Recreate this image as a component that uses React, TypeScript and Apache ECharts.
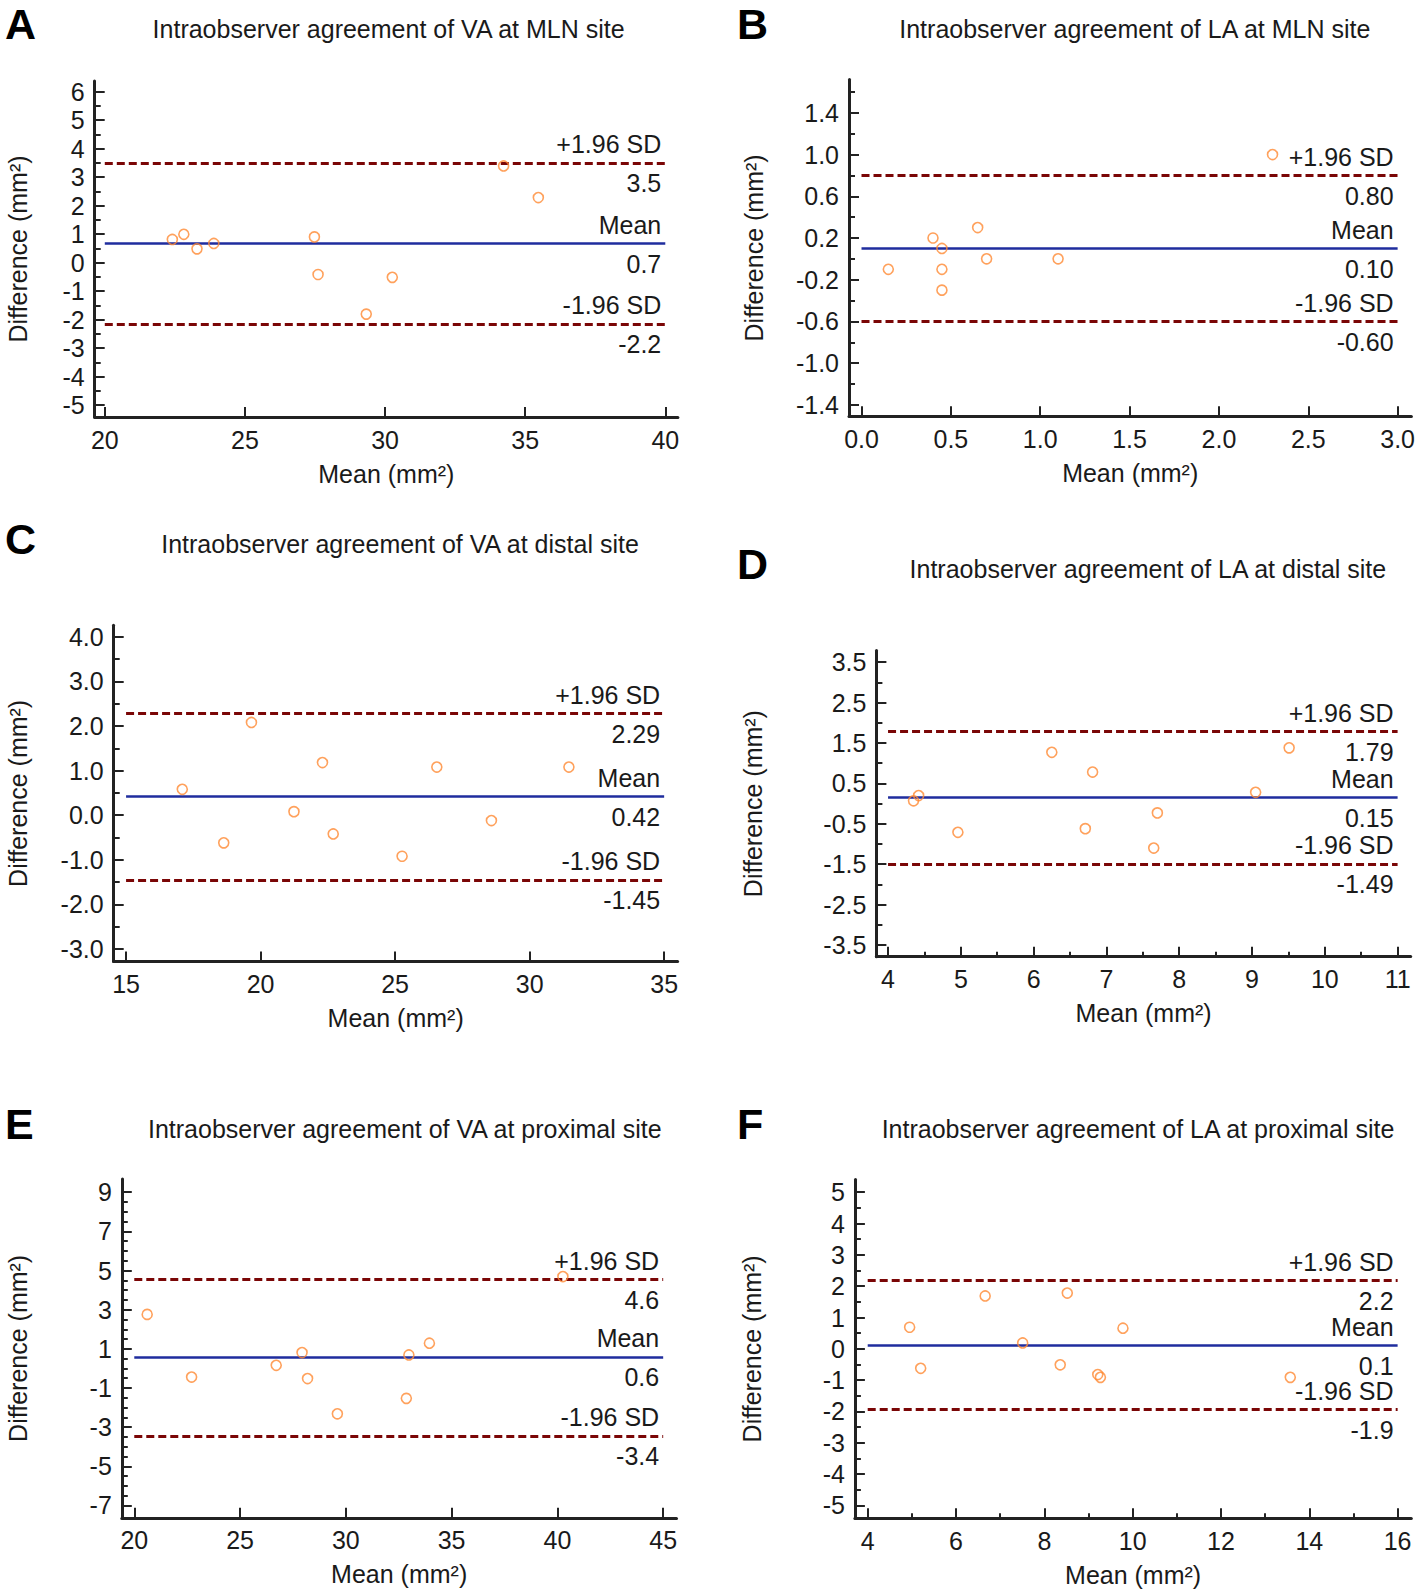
import React, { useEffect, useRef } from "react";
import * as echarts from "echarts";

// ---------------- DATA ----------------
// Panel A: VA at MLN site
const aMeanVals = [22.41, 22.82, 23.29, 23.89, 27.48, 27.61, 30.26, 29.33, 34.23, 35.47];
const aDiffVals = [0.81, 0.99, 0.48, 0.67, 0.9, -0.42, -0.52, -1.81, 3.39, 2.28];
const aLimits = [3.5, 0.68, -2.15];
const aLimitTexts = ["3.5", "0.7", "-2.2"];
const aXTicks = [20, 25, 30, 35, 40];
const aXMinor: number[] = [];
const aYTicks = [-5, -4, -3, -2, -1, 0, 1, 2, 3, 4, 5, 6];
const aYMinor = [-4.5, -3.5, -2.5, -1.5, -0.5, 0.5, 1.5, 2.5, 3.5, 4.5, 5.5];

// Panel B: LA at MLN site
const bMeanVals = [0.15, 0.4, 0.45, 0.45, 0.45, 0.65, 0.7, 1.1, 2.3];
const bDiffVals = [-0.1, 0.2, 0.1, -0.1, -0.3, 0.3, 0.0, 0.0, 1.0];
const bLimits = [0.8, 0.1, -0.6];
const bLimitTexts = ["0.80", "0.10", "-0.60"];
const bXTicks = [0, 0.5, 1.0, 1.5, 2.0, 2.5, 3.0];
const bXMinor: number[] = [];
const bYTicks = [-1.4, -1.0, -0.6, -0.2, 0.2, 0.6, 1.0, 1.4];
const bYMinor = [-1.2, -0.8, -0.4, 0, 0.4, 0.8, 1.2, 1.6];

// Panel C: VA at distal site
const cMeanVals = [17.09, 18.63, 19.66, 21.24, 22.3, 22.7, 25.26, 26.55, 28.58, 31.46];
const cDiffVals = [0.58, -0.62, 2.08, 0.08, 1.18, -0.42, -0.92, 1.08, -0.12, 1.08];
const cLimits = [2.29, 0.42, -1.45];
const cLimitTexts = ["2.29", "0.42", "-1.45"];
const cXTicks = [15, 20, 25, 30, 35];
const cXMinor: number[] = [];
const cYTicks = [-3, -2, -1, 0, 1, 2, 3, 4];
const cYMinor = [-2.5, -1.5, -0.5, 0.5, 1.5, 2.5, 3.5];

// Panel D: LA at distal site
const dMeanVals = [4.35, 4.42, 4.96, 6.25, 6.81, 6.71, 7.7, 7.65, 9.05, 9.51];
const dDiffVals = [0.07, 0.2, -0.71, 1.27, 0.78, -0.62, -0.23, -1.1, 0.28, 1.38];
const dLimits = [1.79, 0.15, -1.49];
const dLimitTexts = ["1.79", "0.15", "-1.49"];
const dXTicks = [4, 5, 6, 7, 8, 9, 10, 11];
const dXMinor = [4.5, 5.5, 6.5, 7.5, 8.5, 9.5, 10.5];
const dYTicks = [-3.5, -2.5, -1.5, -0.5, 0.5, 1.5, 2.5, 3.5];
const dYMinor = [-3, -2, -1, 0, 1, 2, 3];

// Panel E: VA at proximal site
const eMeanVals = [20.61, 22.71, 26.71, 27.93, 28.19, 29.6, 32.86, 32.98, 33.95, 40.26];
const eDiffVals = [2.76, -0.44, 0.16, 0.81, -0.52, -2.32, -1.53, 0.69, 1.29, 4.69];
const eLimits = [4.56, 0.59, -3.44];
const eLimitTexts = ["4.6", "0.6", "-3.4"];
const eXTicks = [20, 25, 30, 35, 40, 45];
const eXMinor: number[] = [];
const eYTicks = [-7, -5, -3, -1, 1, 3, 5, 7, 9];
const eYMinor = [-6.5, -6, -5.5, -4.5, -4, -3.5, -2.5, -2, -1.5, -0.5, 0, 0.5, 1.5, 2, 2.5, 3.5, 4, 4.5, 5.5, 6, 6.5, 7.5, 8, 8.5];

// Panel F: LA at proximal site
const fMeanVals = [4.95, 5.2, 6.66, 7.51, 8.36, 8.52, 9.21, 9.27, 9.78, 13.57];
const fDiffVals = [0.69, -0.62, 1.69, 0.19, -0.51, 1.78, -0.82, -0.91, 0.66, -0.91];
const fLimits = [2.18, 0.11, -1.94];
const fLimitTexts = ["2.2", "0.1", "-1.9"];
const fXTicks = [4, 6, 8, 10, 12, 14, 16];
const fXMinor = [5, 7, 9, 11, 13, 15];
const fYTicks = [-5, -4, -3, -2, -1, 0, 1, 2, 3, 4, 5];
const fYMinor = [-4.5, -3.5, -2.5, -1.5, -0.5, 0.5, 1.5, 2.5, 3.5, 4.5];

const limitNames = ["+1.96 SD", "Mean", "-1.96 SD"];
const letters = ["A", "B", "C", "D", "E", "F"];
const titles = [
  "Intraobserver agreement of VA at MLN site",
  "Intraobserver agreement of LA at MLN site",
  "Intraobserver agreement of VA at distal site",
  "Intraobserver agreement of LA at distal site",
  "Intraobserver agreement of VA at proximal site",
  "Intraobserver agreement of LA at proximal site",
];

// ---------------- STYLE / LAYOUT ----------------
const FONT = "'Liberation Sans', Arial, Helvetica, sans-serif";
const TEXT = "#1a1a1a";
const ORANGE = "#ff8a33";
const RED = "#7a0606";
const BLUE = "#1f2d9e";
const AXIS = "#222222";

type Panel = {
  mx: number[]; dy: number[]; limits: number[]; limitTexts: string[];
  xTicks: number[]; xMinor: number[]; yTicks: number[]; yMinor: number[];
  xDec: number; yDec: number;
};

const panels: Panel[] = [
  { mx: aMeanVals, dy: aDiffVals, limits: aLimits, limitTexts: aLimitTexts, xTicks: aXTicks, xMinor: aXMinor, yTicks: aYTicks, yMinor: aYMinor, xDec: 0, yDec: 0 },
  { mx: bMeanVals, dy: bDiffVals, limits: bLimits, limitTexts: bLimitTexts, xTicks: bXTicks, xMinor: bXMinor, yTicks: bYTicks, yMinor: bYMinor, xDec: 1, yDec: 1 },
  { mx: cMeanVals, dy: cDiffVals, limits: cLimits, limitTexts: cLimitTexts, xTicks: cXTicks, xMinor: cXMinor, yTicks: cYTicks, yMinor: cYMinor, xDec: 0, yDec: 1 },
  { mx: dMeanVals, dy: dDiffVals, limits: dLimits, limitTexts: dLimitTexts, xTicks: dXTicks, xMinor: dXMinor, yTicks: dYTicks, yMinor: dYMinor, xDec: 0, yDec: 1 },
  { mx: eMeanVals, dy: eDiffVals, limits: eLimits, limitTexts: eLimitTexts, xTicks: eXTicks, xMinor: eXMinor, yTicks: eYTicks, yMinor: eYMinor, xDec: 0, yDec: 0 },
  { mx: fMeanVals, dy: fDiffVals, limits: fLimits, limitTexts: fLimitTexts, xTicks: fXTicks, xMinor: fXMinor, yTicks: fYTicks, yMinor: fYMinor, xDec: 0, yDec: 0 },
];

// layout: grid box, axis extents, text positions (letter = left, top of text box)
const layouts = [
  { left: 94.7, top: 81, width: 583.2, height: 336, xr: [19.64, 40.45], yr: [-5.42, 6.37], yGap: 64, letter: [5, 2], title: [388.6, 28.5] },
  { left: 849, top: 79.5, width: 563.5, height: 336.8, xr: [-0.07, 3.077], yr: [-1.51, 1.72], yGap: 83, letter: [737, 2], title: [1134.8, 28.5] },
  { left: 113.7, top: 625.2, width: 563.9, height: 336.3, xr: [14.54, 35.5], yr: [-3.28, 4.26], yGap: 83, letter: [5, 517], title: [400, 544] },
  { left: 876.4, top: 650.5, width: 534.3, height: 306.2, xr: [3.84, 11.18], yr: [-3.79, 3.79], yGap: 111, letter: [737, 542.6], title: [1147.9, 568.6] },
  { left: 121.8, top: 1178.9, width: 554.7, height: 338.9, xr: [19.41, 45.63], yr: [-7.63, 9.68], yGap: 91, letter: [5, 1102], title: [404.8, 1129] },
  { left: 854.9, top: 1179.4, width: 556.4, height: 338.9, xr: [3.71, 16.31], yr: [-5.41, 5.41], yGap: 90, letter: [737, 1102], title: [1138, 1129] },
];

const FS = 25;

function buildOption() {
  const grid: any[] = [];
  const xAxis: any[] = [];
  const yAxis: any[] = [];
  const series: any[] = [];
  const graphic: any[] = [];

  panels.forEach((p, i) => {
    const L = layouts[i];
    grid.push({ left: L.left, top: L.top, width: L.width, height: L.height, containLabel: false });
    const tickStyle = { color: AXIS, width: 2 };
    xAxis.push({
      type: "value", gridIndex: i, position: "bottom", min: L.xr[0], max: L.xr[1],
      name: "Mean (mm²)", nameLocation: "middle", nameGap: 44,
      nameTextStyle: { fontFamily: FONT, fontSize: FS, color: TEXT },
      axisLine: { show: true, onZero: false, lineStyle: { color: AXIS, width: 3 } },
      axisTick: { show: true, inside: true, length: 10, lineStyle: tickStyle, customValues: p.xTicks },
      axisLabel: {
        show: true, customValues: p.xTicks, margin: 10, fontFamily: FONT, fontSize: FS, color: TEXT,
        formatter: (v: number) => v.toFixed(p.xDec),
      },
      splitLine: { show: false },
    });
    xAxis.push({
      type: "value", gridIndex: i, position: "bottom", offset: 0, min: L.xr[0], max: L.xr[1],
      axisLine: { show: false, onZero: false },
      axisLabel: { show: false },
      splitLine: { show: false },
      axisTick: p.xMinor.length
        ? { show: true, inside: true, length: 5, lineStyle: tickStyle, customValues: p.xMinor }
        : { show: false },
    });
    yAxis.push({
      type: "value", gridIndex: i, position: "left", min: L.yr[0], max: L.yr[1],
      name: "Difference (mm²)", nameLocation: "middle", nameGap: L.yGap, nameRotate: 90,
      nameTextStyle: { fontFamily: FONT, fontSize: FS, color: TEXT },
      axisLine: { show: true, onZero: false, lineStyle: { color: AXIS, width: 3 } },
      axisTick: { show: true, inside: true, length: 10, lineStyle: tickStyle, customValues: p.yTicks },
      axisLabel: {
        show: true, customValues: p.yTicks, margin: 10, fontFamily: FONT, fontSize: FS, color: TEXT,
        formatter: (v: number) => v.toFixed(p.yDec),
      },
      splitLine: { show: false },
    });
    yAxis.push({
      type: "value", gridIndex: i, position: "left", offset: 0, min: L.yr[0], max: L.yr[1],
      axisLine: { show: false, onZero: false },
      axisLabel: { show: false },
      splitLine: { show: false },
      axisTick: { show: true, inside: true, length: 6, lineStyle: tickStyle, customValues: p.yMinor },
    });

    const x0 = p.xTicks[0];
    const x1 = p.xTicks[p.xTicks.length - 1];
    const lineData: any[] = [];
    p.limits.forEach((v, k) => {
      const ls = k === 1
        ? { color: BLUE, width: 2.5, type: "solid" }
        : { color: RED, width: 2.8, type: [8, 4] };
      const lab = { fontFamily: FONT, fontSize: FS, color: TEXT, opacity: 1 };
      lineData.push([
        { coord: [x0, v], lineStyle: ls, label: { show: true, position: "insideEndTop", formatter: limitNames[k], distance: [4, 6], ...lab } },
        { coord: [x1, v] },
      ]);
      lineData.push([
        { coord: [x0, v], lineStyle: { color: "rgba(0,0,0,0)", width: 1, type: "solid" }, label: { show: true, position: "insideEndBottom", formatter: p.limitTexts[k], distance: [4, 8], ...lab } },
        { coord: [x1, v] },
      ]);
    });

    series.push({
      type: "scatter",
      xAxisIndex: 2 * i,
      yAxisIndex: 2 * i,
      data: p.mx.map((m, k) => [m, p.dy[k]]),
      symbol: "circle",
      symbolSize: 10,
      itemStyle: { color: "rgba(255,255,255,0)", borderColor: ORANGE, borderWidth: 1.6 },
      z: 5,
      markLine: {
        silent: true,
        symbol: ["none", "none"],
        animation: false,
        data: lineData,
      },
    });

    graphic.push({
      type: "text", x: L.letter[0], y: L.letter[1],
      style: { text: letters[i], font: `bold 43px ${FONT}`, fill: "#000", textVerticalAlign: "top", textAlign: "left" },
    });
    graphic.push({
      type: "text", x: L.title[0], y: L.title[1],
      style: { text: titles[i], font: `25px ${FONT}`, fill: TEXT, textVerticalAlign: "middle", textAlign: "center" },
    });
  });

  return {
    animation: false,
    backgroundColor: "#ffffff",
    grid, xAxis, yAxis, series, graphic,
  };
}

export default function App() {
  const ref = useRef<HTMLDivElement>(null);
  useEffect(() => {
    if (!ref.current) return;
    const chart = echarts.init(ref.current, undefined, { renderer: "svg" });
    chart.setOption(buildOption() as any);
    return () => chart.dispose();
  }, []);
  return (
    <div
      ref={ref}
      style={{ position: "absolute", left: 0, top: 0, width: 1418, height: 1595, background: "#fff" }}
    />
  );
}
